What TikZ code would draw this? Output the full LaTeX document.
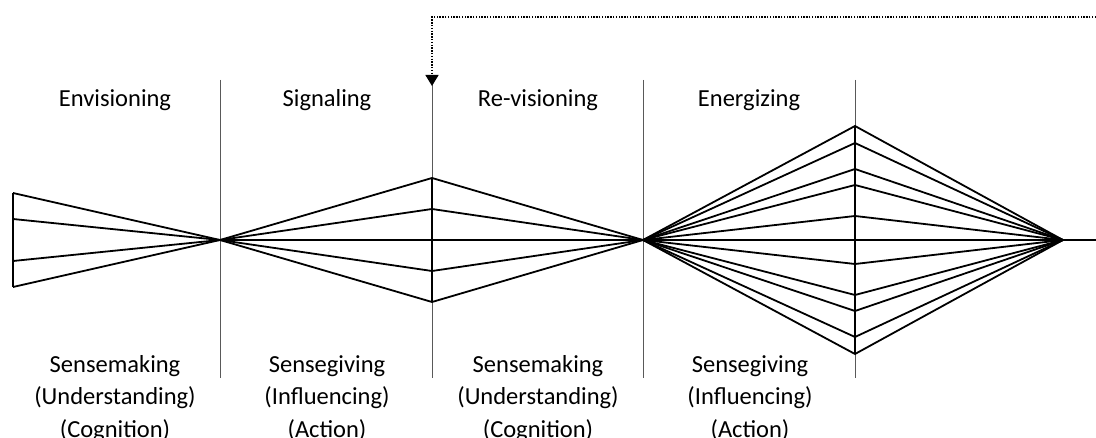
\documentclass[tikz,border=0pt]{standalone}
\usepackage{fontspec}
\setmainfont{Carlito}
\usepackage{tikz}
\usetikzlibrary{arrows.meta,calc,positioning}

\tikzset{
	phase/.style={font=\fontsize{24.5}{33}\selectfont,align=center,anchor=base,inner sep=0pt},
	fan/.style={line width=1.8pt,line join=miter},
	divider/.style={line width=0.9pt,black!65},
	feedback/.style={dash pattern=on 1.4pt off 1.4pt,line width=1.4pt,-{Triangle[width=13pt,length=11pt]}}
}

\begin{document}
\begin{tikzpicture}[x=1pt,y=-1pt]
	\useasboundingbox (0,0) rectangle (1096,438);
	\coordinate (hubA) at (220,240);
	\coordinate (hubB) at (643,240);
	\coordinate (hubC) at (1063,240);
	\coordinate (back) at (1096,17);
	\coordinate (reentry) at (432,86);
	\foreach \x in {220,432,643,855} \draw[divider] (\x,80) -- (\x,378);
	\foreach \d in {-47,-21,21,47} \draw[fan] (13,240+\d) -- (hubA);
	\foreach \d in {-62,-31,31,62} \draw[fan] (hubA) -- (432,240+\d) -- (hubB);
	\foreach \d in {-114,-97,-71,-55,-24,24,55,71,97,114} \draw[fan] (hubB) -- (855,240+\d) -- (hubC);
	\draw[fan] (13,193) -- (13,287);
	\draw[fan] (432,178) -- (432,302);
	\draw[fan] (855,126) -- (855,354);
	\draw[fan] (hubA) -- (1096,240);
	\draw[feedback] (back) -| (reentry);
	\node[phase] (envisioning) at (115,107) {Envisioning};
	\node[phase] (signaling) at (327,107) {Signaling};
	\node[phase] (revisioning) at (538,107) {Re-visioning};
	\node[phase] (energizing) at (749,107) {Energizing};
	\node[phase] (makingA) at (115,438) {Sensemaking\\(Understanding)\\(Cognition)};
	\node[phase] (givingA) at (327,438) {Sensegiving\\(Influencing)\\(Action)};
	\node[phase] (makingB) at (538,438) {Sensemaking\\(Understanding)\\(Cognition)};
	\node[phase] (givingB) at (750,438) {Sensegiving\\(Influencing)\\(Action)};
\end{tikzpicture}
\end{document}
